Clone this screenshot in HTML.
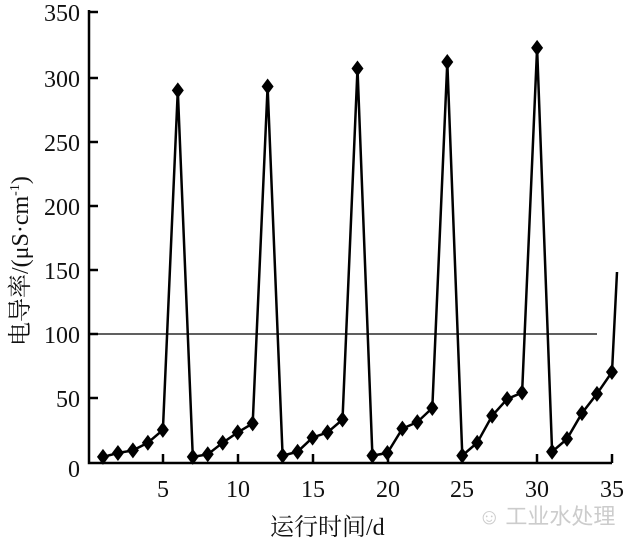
<!DOCTYPE html>
<html><head><meta charset="utf-8"><style>body{margin:0;background:#fff}svg{display:block}</style></head>
<body>
<svg width="640" height="551" viewBox="0 0 640 551" xmlns="http://www.w3.org/2000/svg" font-family="'Liberation Serif','Noto Serif CJK SC',serif">
<g stroke="#000" stroke-width="2.5" fill="none">
<polyline points="89,10 89,463 612,463"/>
<line x1="89" y1="12" x2="98" y2="12"/><line x1="89" y1="78" x2="98" y2="78"/><line x1="89" y1="142" x2="98" y2="142"/>
<line x1="89" y1="206" x2="98" y2="206"/><line x1="89" y1="270" x2="98" y2="270"/><line x1="89" y1="334" x2="98" y2="334"/><line x1="89" y1="398" x2="98" y2="398"/>
<line x1="163" y1="463" x2="163" y2="454"/><line x1="238" y1="463" x2="238" y2="454"/><line x1="313" y1="463" x2="313" y2="454"/>
<line x1="388" y1="463" x2="388" y2="454"/><line x1="462" y1="463" x2="462" y2="454"/><line x1="537" y1="463" x2="537" y2="454"/><line x1="612" y1="463" x2="612" y2="454"/>
</g>
<line x1="98" y1="334" x2="597" y2="334" stroke="#000" stroke-width="1.3"/>
<g font-size="24" text-anchor="end" fill="#111">
<text x="80" y="21">350</text><text x="80" y="87">300</text><text x="80" y="151">250</text><text x="80" y="215">200</text>
<text x="80" y="279">150</text><text x="80" y="343">100</text><text x="80" y="407">50</text><text x="80" y="477">0</text>
</g>
<g font-size="24" text-anchor="middle" fill="#111">
<text x="163" y="497">5</text><text x="238" y="497">10</text><text x="313" y="497">15</text><text x="388" y="497">20</text>
<text x="462" y="497">25</text><text x="537" y="497">30</text><text x="612" y="497">35</text>
</g>
<text x="270" y="535" font-size="24" fill="#111">运行时间/d</text>
<text transform="translate(28,346) rotate(-90)" font-size="24" fill="#111">电导率/(μS·cm<tspan dy="-9" font-size="14">-1</tspan><tspan dy="9">)</tspan></text>
<text x="478" y="524" font-size="22" fill="#ccc" font-family="'Noto Sans CJK SC',sans-serif">☺ 工业水处理</text>
<g id="s"></g>
<script>
var v=[4,7,9,15,25,289,4,6,15,23,30,292,5,8,19,23,33,306,5,7,26,31,42,311,5,15,36,49,54,322,8,18,38,53,70];
var pts=v.map(function(d,i){return [88+(i+1)*14.97,462-1.286*d];});
var ns="http://www.w3.org/2000/svg",g=document.getElementById('s');
var pl=document.createElementNS(ns,'polyline');
pl.setAttribute('points',pts.map(function(p){return p[0].toFixed(1)+','+p[1].toFixed(1)}).join(' ')+' 617,272');
pl.setAttribute('fill','none');pl.setAttribute('stroke','#000');pl.setAttribute('stroke-width','2.5');g.appendChild(pl);
pts.forEach(function(p){var d=document.createElementNS(ns,'polygon');var x=p[0],y=p[1];
d.setAttribute('points',x+','+(y-8)+' '+(x+6)+','+y+' '+x+','+(y+8)+' '+(x-6)+','+y);d.setAttribute('fill','#000');g.appendChild(d);});
</script>
</svg>
</body></html>
